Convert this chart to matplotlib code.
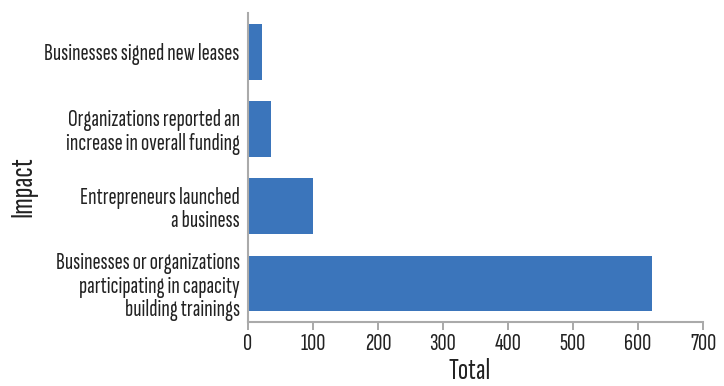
import matplotlib.pyplot as plt

impacts = ['Businesses signed new leases',
           'Organizations reported an\nincrease in overall funding',
           'Entrepreneurs launched\na business',
           'Businesses or organizations\nparticipating in capacity\nbuilding trainings']
totals = [22, 36, 100, 622]

plt.rcParams['font.family'] = ['Sofia Sans Extra Condensed', 'DejaVu Sans']

fig = plt.figure(figsize=(7.24, 3.86), dpi=100)
ax = fig.add_axes([0.3425, 0.166, 0.6285, 0.8])

ax.barh(range(len(impacts)), totals, height=0.72, color='#3b75bb')
ax.set_ylim(3.5, -0.5)
ax.set_xlim(0, 700)
ax.set_yticks(range(len(impacts)))
ax.set_yticklabels(impacts, fontsize=17.5, color='#222222', linespacing=1.1)
ax.set_xticks(range(0, 701, 100))
ax.tick_params(axis='x', labelsize=18, colors='#999999', labelcolor='#222222', length=6, width=1.2, pad=2)
ax.tick_params(axis='y', length=0, pad=6)
for s in ['top', 'right']:
    ax.spines[s].set_visible(False)
for s in ['left', 'bottom']:
    ax.spines[s].set_color('#aaaaaa')
    ax.spines[s].set_linewidth(1.5)
ax.set_xlabel('Total', fontsize=22, color='#222222')
ax.set_ylabel('Impact', fontsize=23, color='#222222')
ax.yaxis.set_label_coords(-0.462, 0.437)
ax.xaxis.set_label_coords(0.488, -0.118)

fig.savefig('out.png', dpi=100)
